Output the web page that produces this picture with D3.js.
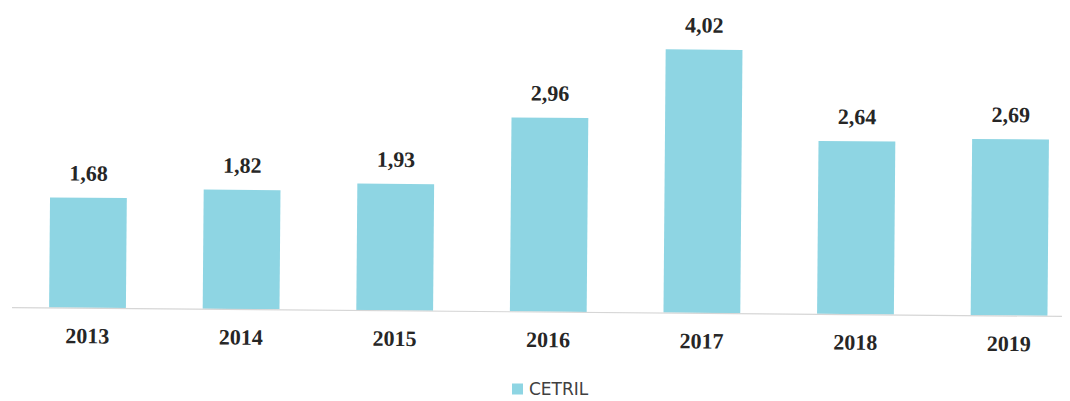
<!DOCTYPE html>
<html>
<head>
<meta charset="utf-8">
<script src="https://cdn.jsdelivr.net/npm/d3@7"></script>
<style>
  html, body { margin: 0; padding: 0; background: #fff; }
  svg { display: block; }
</style>
</head>
<body>
<svg id="chart" width="1070" height="401"></svg>
<script>
// Years on the category axis
const years = ["2013", "2014", "2015", "2016", "2017", "2018", "2019"];
// CETRIL values per year
const values = [1.68, 1.82, 1.93, 2.96, 4.02, 2.64, 2.69];
// Value labels as printed (comma decimal)
const valueLabels = ["1,68", "1,82", "1,93", "2,96", "4,02", "2,64", "2,69"];
const seriesName = "CETRIL";

const W = 1070, H = 401;
const baseY = 307;
const barColor = "#8ed5e3";

const svg = d3.select("#chart");

// Page is slightly skewed: plot group is tilted a fraction of a degree
const plot = svg.append("g")
  .attr("transform", `rotate(0.48, 0, ${baseY})`);

const x = d3.scaleBand()
  .domain(years)
  .range([10.7, 1085.9])
  .paddingInner(0.5)
  .paddingOuter(0.25);

const y = d3.scaleLinear()
  .domain([0, 4.5])
  .range([baseY, baseY - 4.5 * 65.5]);

// Bars
plot.selectAll("rect.bar")
  .data(values)
  .join("rect")
  .attr("class", "bar")
  .attr("x", (d, i) => x(years[i]))
  .attr("width", x.bandwidth())
  .attr("y", d => y(d))
  .attr("height", d => y(0) - y(d))
  .attr("fill", barColor);

// Category axis: baseline only, labels below
const xAxis = d3.axisBottom(x).tickSize(0).tickPadding(20);
const gx = plot.append("g")
  .attr("transform", `translate(0, ${baseY})`)
  .call(xAxis);
gx.select(".domain")
  .attr("d", `M12,0.5H1062`)
  .attr("stroke", "#d6d6d6")
  .attr("stroke-width", 1.2);
gx.selectAll(".tick text")
  .attr("font-family", "'Liberation Serif', 'Times New Roman', serif")
  .attr("font-weight", "bold")
  .attr("font-size", 22)
  .attr("fill", "#262626")
  .attr("dy", "0.71em");

// Value labels above bars
plot.selectAll("text.val")
  .data(values)
  .join("text")
  .attr("class", "val")
  .attr("x", (d, i) => x(years[i]) + x.bandwidth() / 2)
  .attr("y", d => y(d) - 17)
  .attr("text-anchor", "middle")
  .attr("font-family", "'Liberation Serif', 'Times New Roman', serif")
  .attr("font-weight", "bold")
  .attr("font-size", 22)
  .attr("fill", "#262626")
  .text((d, i) => valueLabels[i]);

// Legend
const legend = svg.append("g").attr("transform", "translate(512, 389)");
legend.append("rect")
  .attr("x", 0).attr("y", -5.5)
  .attr("width", 11).attr("height", 11)
  .attr("fill", barColor);
legend.append("text")
  .attr("x", 17).attr("y", 0)
  .attr("dy", "0.36em")
  .attr("font-family", "'DejaVu Sans', 'Noto Sans', sans-serif")
  .attr("font-size", 17)
  .attr("fill", "#404040")
  .text(seriesName);
</script>
</body>
</html>
